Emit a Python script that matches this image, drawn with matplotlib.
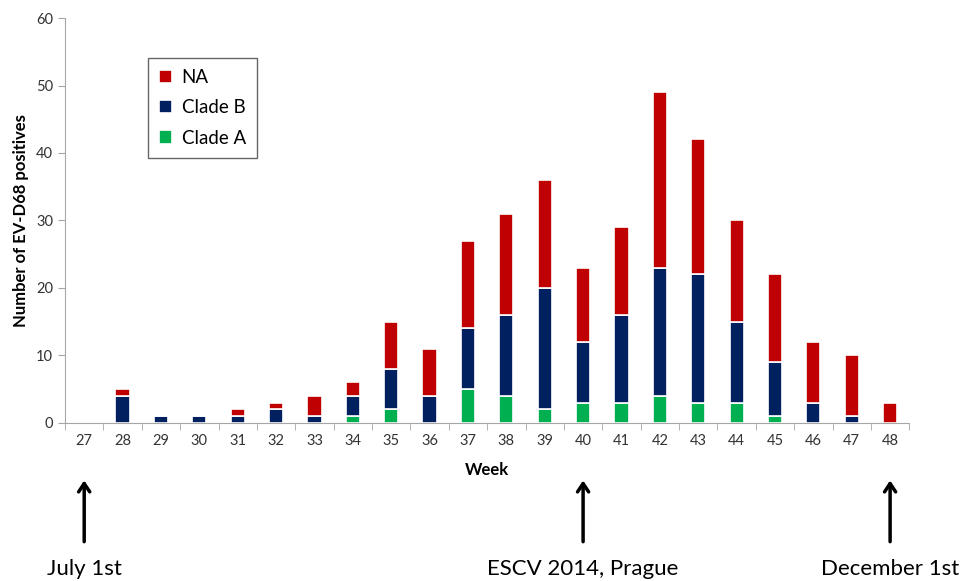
import numpy as np
import matplotlib.pyplot as plt

plt.rcParams['font.family'] = ['Lato', 'DejaVu Sans']

# Data
weeks = [str(w) for w in range(27, 49)]
clade_a = [0, 0, 0, 0, 0, 0, 0, 1, 2, 0, 5, 4, 2, 3, 3, 4, 3, 3, 1, 0, 0, 0]
clade_b = [0, 4, 1, 1, 1, 2, 1, 3, 6, 4, 9, 12, 18, 9, 13, 19, 19, 12, 8, 3, 1, 0]
totals = [0, 5, 1, 1, 2, 3, 4, 6, 15, 11, 27, 31, 36, 23, 29, 49, 42, 30, 22, 12, 10, 3]
na = [t - a - b for t, a, b in zip(totals, clade_a, clade_b)]

events = {"27": "July 1st", "40": "ESCV 2014, Prague", "48": "December 1st"}

fig = plt.figure(figsize=(9.66, 5.81), dpi=100)
ax = fig.add_axes([0.0673, 0.272, 0.874, 0.697])

x = np.arange(len(weeks))
w = 0.37
a = np.array(clade_a)
b = np.array(clade_b)
n = np.array(na)
ax.bar(x, a, w, color="#00B050", edgecolor="white", linewidth=1.2, label="Clade A")
ax.bar(x, b, w, bottom=a, color="#002060", edgecolor="white", linewidth=1.2, label="Clade B")
ax.bar(x, n, w, bottom=a + b, color="#C00000", edgecolor="white", linewidth=1.2, label="NA")

ax.set_xlim(-0.5, len(weeks) - 0.5)
ax.set_ylim(0, 60)
ax.set_yticks(range(0, 61, 10))
ax.set_xticks(x)
ax.set_xticklabels(weeks)
ax.set_xticks(np.arange(-0.5, len(weeks), 1), minor=True)
ax.tick_params(axis='x', which='major', length=0, pad=8, labelsize=10.5, colors='#333333')
ax.tick_params(axis='x', which='minor', length=5, color='#a6a6a6')
ax.tick_params(axis='y', length=5, color='#a6a6a6', labelsize=10.5, colors='#333333')

for side in ['top', 'right']:
    ax.spines[side].set_visible(False)
for side in ['left', 'bottom']:
    ax.spines[side].set_color('#a6a6a6')

ax.set_ylabel("Number of EV-D68 positives", fontsize=12, fontweight='bold', labelpad=5)
ax.set_xlabel("Week", fontsize=12, fontweight='bold', labelpad=10)

handles, labels = ax.get_legend_handles_labels()
leg = ax.legend(handles[::-1], labels[::-1], loc='upper left', bbox_to_anchor=(0.098, 0.901),
                borderaxespad=0, fontsize=13.5, frameon=True, fancybox=False, edgecolor='#404040',
                handlelength=0.7, handleheight=0.7, handletextpad=0.5,
                labelspacing=0.7, borderpad=0.6)
leg.get_frame().set_linewidth(1)

# Arrows marking events
for wk, label in events.items():
    xi = weeks.index(wk)
    ax.annotate("", xy=(xi, -0.135), xytext=(xi, -0.30),
                xycoords=('data', 'axes fraction'), textcoords=('data', 'axes fraction'),
                arrowprops=dict(arrowstyle='->,head_width=0.4,head_length=0.6', lw=2.5, color='black'),
                annotation_clip=False)
    ax.text(xi, -0.36, label, transform=ax.get_xaxis_transform(), ha='center', va='center',
            fontsize=16)

fig.savefig("out.png", dpi=100)
